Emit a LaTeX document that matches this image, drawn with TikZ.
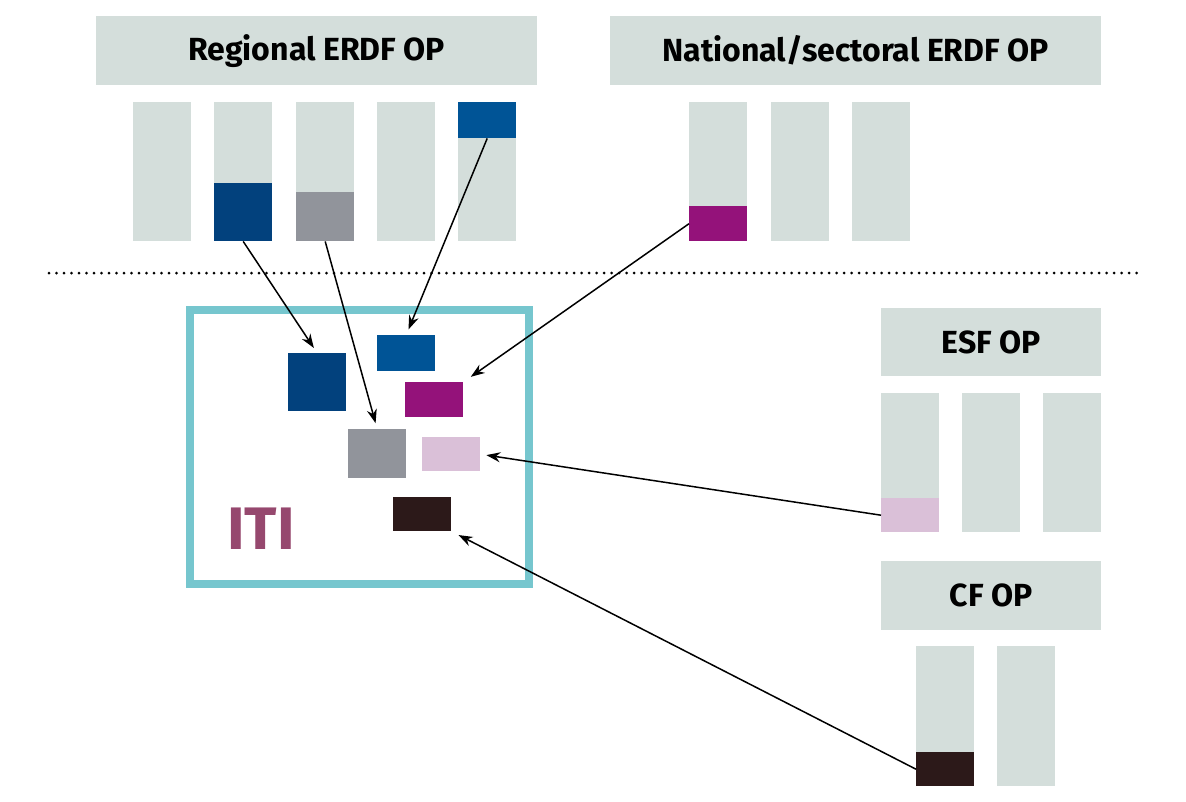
\documentclass[tikz,border=0pt]{standalone}
\usepackage{fontspec}
\setmainfont{Fira Sans}
\usepackage{xcolor}
\usepackage{tikz}
\usetikzlibrary{arrows.meta}

\definecolor{barbg}{RGB}{212,222,219}
\definecolor{darkblue}{RGB}{2,65,125}
\definecolor{midblue}{RGB}{0,84,150}
\definecolor{slategray}{RGB}{145,148,155}
\definecolor{plum}{RGB}{148,18,122}
\definecolor{lightpink}{RGB}{218,192,216}
\definecolor{darkbrown}{RGB}{44,25,25}
\definecolor{itiframe}{RGB}{118,198,206}
\definecolor{ititext}{RGB}{150,72,110}

\tikzset{
  header/.style={fill=barbg, inner sep=0, anchor=north west, minimum height=69,
    font=\fontsize{32}{36}\selectfont\bfseries},
  bar/.style={fill=barbg, inner sep=0, anchor=north west, minimum width=58, minimum height=139},
  part/.style={inner sep=0, anchor=north west, minimum width=58},
  link/.style={-{Stealth[length=14pt,width=10pt]}, line width=1.5pt, shorten >=6pt}
}

\begin{document}
\begin{tikzpicture}[x=1pt,y=-1pt]
    \useasboundingbox (0,0) rectangle (1186,801);

    % headers
    \node[header, minimum width=441] (regop) at (96,16) {Regional ERDF OP};
    \node[header, minimum width=491] (natop) at (610,16) {National/sectoral ERDF OP};
    \node[header, minimum width=220, minimum height=68] (esfop) at (881,308) {ESF OP};
    \node[header, minimum width=220] (cfop) at (881,561) {CF OP};

    % regional ERDF bars
    \node[bar] (reg1) at (133,102) {};
    \node[bar] (reg2) at (214,102) {};
    \node[bar] (reg3) at (296,102) {};
    \node[bar] (reg4) at (377,102) {};
    \node[bar] (reg5) at (458,102) {};
    \node[part, fill=darkblue, minimum height=58] (regdb) at (214,183) {};
    \node[part, fill=slategray, minimum height=49] (reggr) at (296,192) {};
    \node[part, fill=midblue, minimum height=36] (regmb) at (458,102) {};

    % national ERDF bars
    \node[bar] (nat1) at (689,102) {};
    \node[bar] (nat2) at (771,102) {};
    \node[bar] (nat3) at (852,102) {};
    \node[part, fill=plum, minimum height=35] (natpu) at (689,206) {};

    % ESF bars
    \node[bar] (esf1) at (881,393) {};
    \node[bar] (esf2) at (962,393) {};
    \node[bar] (esf3) at (1043,393) {};
    \node[part, fill=lightpink, minimum height=34] (esfpk) at (881,498) {};

    % CF bars
    \node[bar, minimum height=140] (cf1) at (916,646) {};
    \node[bar, minimum height=140] (cf2) at (997,646) {};
    \node[part, fill=darkbrown, minimum height=34] (cfbr) at (916,752) {};

    % dotted divider
    \coordinate (divl) at (49,273);
    \coordinate (divr) at (1142,273);
    \draw[line width=3pt, line cap=round, dash pattern=on 0pt off 7.5pt] (divl) -- (divr);

    % ITI frame
    \node[draw=itiframe, line width=8pt, inner sep=0, outer sep=0, anchor=north west,
          minimum width=339, minimum height=274] (iti) at (190,310) {};
    \node[text=ititext, font=\fontsize{60}{62}\selectfont\bfseries] (itilabel) at (261,529) {ITI};

    \node[part, fill=darkblue, minimum height=58] (itidb) at (288,353) {};
    \node[part, fill=midblue, minimum height=36] (itimb) at (377,335) {};
    \node[part, fill=plum, minimum height=35] (itipu) at (405,382) {};
    \node[part, fill=slategray, minimum height=49] (itigr) at (348,429) {};
    \node[part, fill=lightpink, minimum height=34] (itipk) at (422,437) {};
    \node[part, fill=darkbrown, minimum height=34] (itibr) at (393,497) {};

    % arrows
    \draw[link] (regdb.south) -- (itidb.north);
    \draw[link] (reggr.south) -- (itigr.north);
    \draw[link] (regmb.south) -- (itimb.north);
    \draw[link, shorten >=9pt] (natpu.west) -- (itipu.north east);
    \draw[link] (esfpk.west) -- (itipk.east);
    \draw[link, shorten >=8pt] (cfbr.west) -- (itibr.south east);

\end{tikzpicture}
\end{document}
